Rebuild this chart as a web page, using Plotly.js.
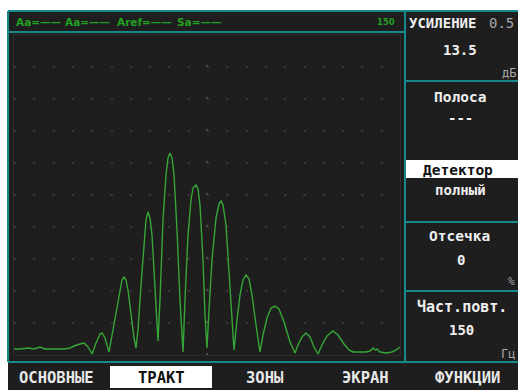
<!DOCTYPE html>
<html>
<head>
<meta charset="utf-8">
<script src="https://cdn.plot.ly/plotly-3.0.1.min.js"></script>
<style>html,body{margin:0;padding:0;background:#fff;}#chart{width:518px;height:390px;}</style>
</head>
<body>
<div id="chart"></div>
<script>
// A-scan trace: time (screen units) and amplitude (screen units)
const time = [0,6,14,20,26,31,38,44,50,56,60,66,70,74,78,82,86,88,91,95,
  99,103,106,108,110,112,114,117,120,122,
  124,127,130,132,134,136,138,141,143,144,
  146,149,152,154,156,158,160,163,166,169,
  171,174,177,179,182,184,186,189,191,193,
  195,198,202,205,207,209,212,215,218,220,
  223,226,229,232,235,238,242,246,
  249,253,257,261,265,270,276,281,
  284,288,292,296,300,304,
  308,313,319,324,330,335,339,
  346,352,356,359,361,363,366,372,378,382,386];
const amplitude = [6,6,7,6,8,6,6,6,6,7,9,11,12,8,1,12,21,22,17,3,
  25,50,67,75,78,75,65,40,17,7,
  25,70,115,135,143,137,120,65,30,14,
  55,135,180,197,202,197,180,125,55,3,
  55,120,155,167,170,166,150,95,40,7,
  45,95,137,151,154,150,130,80,30,5,
  35,60,75,80,76,60,30,3,
  20,37,47,49,46,33,13,2,
  10,18,22,18,8,1,
  10,19,24,20,11,5,3,
  3,3,4,7,5,6,3,2,3,5,8];

const headerLabels = ["Aa=——", "Aa=——", "Aref=——", "Sa=——"];
const headerX = [14, 63, 115, 175];
const rangeLabel = "150";
const menuLabels = ["ОСНОВНЫЕ", "ТРАКТ", "ЗОНЫ", "ЭКРАН", "ФУНКЦИИ"];
const menuX = [56, 161, 265, 365, 467];
const activeMenu = 1;

// geometry helpers (plot area: px 14..400, py 35..355)
const PX = px => (px - 14) / 386;
const PY = py => (355 - py) / 320;
const TEAL = '#17898b';
const BG = '#1e1e1e';
const MONO = 'DejaVu Sans Mono, monospace';
const SANS = 'DejaVu Sans, sans-serif';

function line(x0, y0, x1, y1, color, w, layer) {
  return {type:'line', xref:'paper', yref:'paper', x0:PX(x0), y0:PY(y0), x1:PX(x1), y1:PY(y1),
    line:{color:color, width:w}, layer:layer || 'above'};
}
function rect(x0, y0, x1, y1, fill, layer) {
  return {type:'rect', xref:'paper', yref:'paper', x0:PX(x0), y0:PY(y0), x1:PX(x1), y1:PY(y1),
    fillcolor:fill, line:{width:0}, layer:layer || 'above'};
}
function txt(text, px, py, opts) {
  opts = opts || {};
  return {text:text, xref:'paper', yref:'paper', x:PX(px), y:PY(py), showarrow:false,
    xanchor:opts.xa || 'center', yanchor:'middle',
    font:{family:opts.family || MONO, size:opts.size || 14, color:opts.color || '#eeeeee', weight:opts.weight || 'bold'}};
}

const shapes = [
  rect(8, 11, 518, 390, BG, 'below'),
  // center cross dotted brighter
  {type:'line', xref:'paper', yref:'paper', x0:0, x1:1, y0:0.5, y1:0.5,
   line:{color:'#4e4e4e', width:2, dash:'2px,17.3px'}, layer:'below'},
  {type:'line', xref:'paper', yref:'paper', x0:0.5, x1:0.5, y0:0, y1:1,
   line:{color:'#4e4e4e', width:2, dash:'2px,30px'}, layer:'below'},
  // highlight bands
  rect(405, 160, 518, 178, '#ffffff'),
  rect(110, 366, 212, 388, '#ffffff'),
  // frame lines
  line(8, 11, 518, 11, TEAL, 2),
  line(8, 11, 8, 362, TEAL, 2),
  line(8, 32, 405, 32, TEAL, 2),
  line(405, 11, 405, 362, TEAL, 2),
  line(8, 362, 518, 362, TEAL, 2),
  line(405, 81, 518, 81, TEAL, 2),
  line(405, 222, 518, 222, TEAL, 2),
  line(405, 291, 518, 291, TEAL, 2)
];

const annotations = [];
headerLabels.forEach((t, i) => annotations.push(txt(t, headerX[i], 22, {xa:'left', size:10.5, color:'#22a022', family:SANS})));
annotations.push(txt(rangeLabel, 397, 22, {xa:'right', size:8.5, color:'#22a022', family:SANS}));

annotations.push(txt('УСИЛЕНИЕ', 407, 23, {xa:'left', size:14}));
annotations.push(txt('0.5', 487, 23, {xa:'left', size:14, color:'#a8a8a8', weight:'normal'}));
annotations.push(txt('13.5', 460, 50, {size:14}));
annotations.push(txt('дБ', 500, 73, {xa:'left', size:12, color:'#a8a8a8', weight:'normal'}));
annotations.push(txt('Полоса', 460, 97, {size:14.5}));
annotations.push(txt('---', 460, 118, {size:14}));
annotations.push(txt('Детектор', 458, 170, {size:14.5, color:'#111111'}));
annotations.push(txt('полный', 461, 190, {size:14}));
annotations.push(txt('Отсечка', 459, 236, {size:14.5}));
annotations.push(txt('0', 461, 260, {size:14}));
annotations.push(txt('%', 506, 281, {xa:'left', size:11, color:'#a8a8a8', weight:'normal'}));
annotations.push(txt('Част.повт.', 462, 307, {size:15}));
annotations.push(txt('150', 462, 330, {size:14}));
annotations.push(txt('Гц', 499, 354, {xa:'left', size:12, color:'#a8a8a8', weight:'normal'}));

menuLabels.forEach((t, i) => annotations.push(txt(t, menuX[i], 378,
  {size:15.5, color: i === activeMenu ? '#111111' : '#e8e8e8'})));

const trace = {
  x: time, y: amplitude, type:'scatter', mode:'lines',
  line:{color:'#36a636', width:1.4}, hoverinfo:'skip'
};

const layout = {
  width:518, height:390,
  margin:{l:14, r:118, t:35, b:35, pad:0},
  paper_bgcolor:'#ffffff',
  plot_bgcolor:'rgba(0,0,0,0)',
  showlegend:false,
  xaxis:{range:[0,386], showgrid:false, zeroline:false, showticklabels:false, ticks:'',
    showline:true, mirror:true, linecolor:'#2c2c2c', linewidth:1, fixedrange:true},
  yaxis:{range:[0,320], tickvals:[0,32,64,96,128,160,192,224,256,288,320], showgrid:true,
    gridcolor:'#383838', gridwidth:2, griddash:'2px,17.3px',
    zeroline:false, showticklabels:false, ticks:'', showline:true, mirror:true,
    linecolor:'#2c2c2c', linewidth:1, fixedrange:true},
  shapes:shapes,
  annotations:annotations
};

Plotly.newPlot('chart', [trace], layout, {displayModeBar:false, staticPlot:true});
</script>
</body>
</html>
